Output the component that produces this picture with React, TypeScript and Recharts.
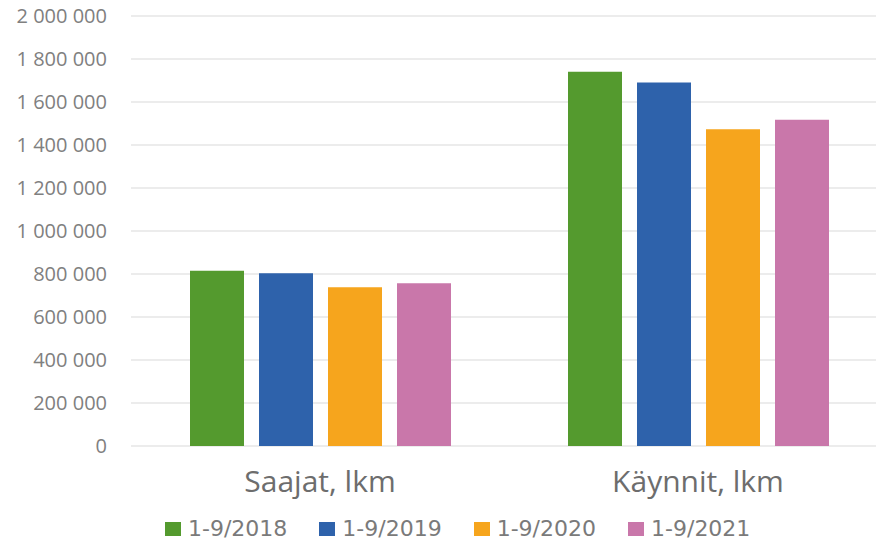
import { BarChart, Bar, XAxis, YAxis, CartesianGrid, Legend } from "recharts";

const categories = ["Saajat, lkm", "Käynnit, lkm"];
const seriesNames = ["1-9/2018", "1-9/2019", "1-9/2020", "1-9/2021"];
const values2018 = [815000, 1741000];
const values2019 = [803000, 1691000];
const values2020 = [738000, 1473000];
const values2021 = [757000, 1518000];
const yTicks = [0, 200000, 400000, 600000, 800000, 1000000, 1200000, 1400000, 1600000, 1800000, 2000000];

const COLORS = ["#549a2e", "#2e62ab", "#f6a51d", "#c977aa"];

const data = categories.map((name, i) => ({
  name,
  [seriesNames[0]]: values2018[i],
  [seriesNames[1]]: values2019[i],
  [seriesNames[2]]: values2020[i],
  [seriesNames[3]]: values2021[i],
}));

const formatTick = (v: number) => v.toLocaleString("en-US").replace(/,/g, " ");

function LegendContent() {
  return (
    <div style={{ display: "flex", alignItems: "center", height: 26, paddingLeft: 165 }}>
      {seriesNames.map((s, i) => (
        <div key={s} style={{ display: "flex", alignItems: "center", marginRight: 32 }}>
          <div style={{ width: 16, height: 14, background: COLORS[i], marginRight: 7 }} />
          <span style={{ fontFamily: "DejaVu Sans", fontSize: 22, color: "#7a7a7a", lineHeight: "26px" }}>{s}</span>
        </div>
      ))}
    </div>
  );
}

export default function App() {
  return (
    <div style={{ position: "absolute", left: 0, top: 0, width: 876, height: 542, overflow: "hidden", background: "#fff" }}>
      <BarChart width={890} height={542} data={data} margin={{ top: 16, right: 3, left: 0, bottom: 0 }} barSize={54} barGap={15}>
        <CartesianGrid vertical={false} stroke="#d9d9d9" />
        <XAxis
          dataKey="name"
          axisLine={false}
          tickLine={false}
          tickSize={0}
          tickMargin={25}
          height={70}
          tick={{ fontFamily: "Open Sans", fontSize: 30, fill: "#6d6d6d" }}
        />
        <YAxis
          width={131}
          domain={[0, 2000000]}
          ticks={yTicks}
          tickFormatter={formatTick}
          axisLine={false}
          tickLine={false}
          tickSize={0}
          tickMargin={24}
          tick={{ fontFamily: "Open Sans", fontSize: 20, fill: "#808080" }}
        />
        <Legend verticalAlign="bottom" content={<LegendContent />} />
        {seriesNames.map((s, i) => (
          <Bar key={s} dataKey={s} fill={COLORS[i]} isAnimationActive={false} />
        ))}
      </BarChart>
    </div>
  );
}
